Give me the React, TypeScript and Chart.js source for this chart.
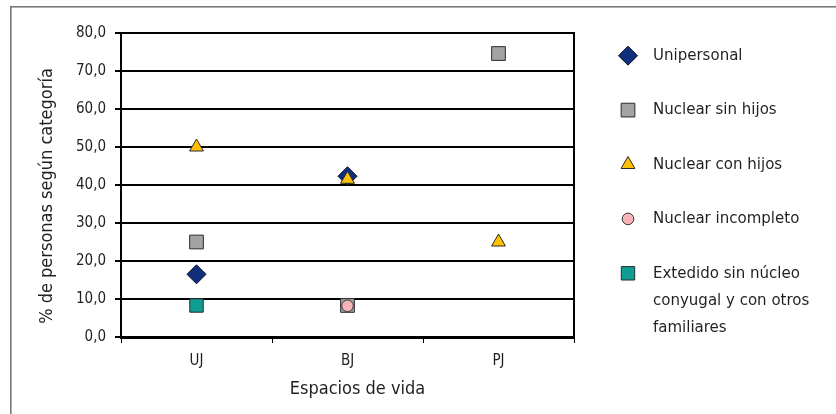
import React, { useEffect, useRef } from 'react';
import { Chart, registerables } from 'chart.js';
import { drawPoint } from 'chart.js/helpers';

Chart.register(...registerables);

const categories = ['UJ', 'BJ', 'PJ'];

const unipersonal = [16.5, 42.3, null];
const nuclearSinHijos = [25.0, 8.3, 74.6];
const nuclearConHijos = [50.0, 41.5, 25.0];
const nuclearIncompleto = [null, 8.2, null];
const extendido = [8.3, null, null];

const seriesLabels = [
  'Unipersonal',
  'Nuclear sin hijos',
  'Nuclear con hijos',
  'Nuclear incompleto',
  'Extedido sin núcleo conyugal y con otros familiares',
];
const legendLines = [
  ['Unipersonal'],
  ['Nuclear sin hijos'],
  ['Nuclear con hijos'],
  ['Nuclear incompleto'],
  ['Extedido sin núcleo', 'conyugal y con otros', 'familiares'],
];

const yTicks = [0, 10, 20, 30, 40, 50, 60, 70, 80];
const xTitle = 'Espacios de vida';
const yTitle = '% de personas según categoría';

const FONT = "'Liberation Sans Narrow', 'Arial Narrow', 'DejaVu Sans Condensed', sans-serif";
const TEXT = '#231f20';

const styles = [
  { pointStyle: 'rectRot', radius: 9.5, bg: '#0f2f7c', border: '#0a0a20' },
  { pointStyle: 'rect', radius: 9.7, bg: '#a3a3a3', border: '#2a2a2a' },
  { pointStyle: 'triangle', radius: 8, bg: '#ffc000', border: '#2a2a2a' },
  { pointStyle: 'circle', radius: 5.8, bg: '#f6b3b8', border: '#3a3a3a' },
  { pointStyle: 'rect', radius: 9.5, bg: '#0f9c92', border: '#2a2a2a' },
];

const frameAndLegend = {
  id: 'frameAndLegend',
  beforeDraw(chart: any) {
    const ctx = chart.ctx;
    ctx.save();
    ctx.fillStyle = '#ffffff';
    ctx.fillRect(0, 0, chart.width, chart.height);
    ctx.strokeStyle = '#7a7a7a';
    ctx.lineWidth = 1.6;
    ctx.strokeRect(10.8, 6.8, chart.width + 20, chart.height + 20);
    ctx.restore();
  },
  beforeDatasetsDraw(chart: any) {
    const { ctx, chartArea } = chart;
    ctx.save();
    ctx.strokeStyle = '#000';
    ctx.lineWidth = 2;
    ctx.strokeRect(chartArea.left, chartArea.top, chartArea.right - chartArea.left, chartArea.bottom - chartArea.top);
    ctx.restore();
  },
  afterDraw(chart: any) {
    const { ctx, chartArea } = chart;
    const iconX = chartArea.right + 54;
    const textX = chartArea.right + 79;
    ctx.save();
    // axis titles
    ctx.fillStyle = TEXT;
    ctx.font = `18px ${FONT}`;
    ctx.textAlign = 'center';
    ctx.textBaseline = 'middle';
    const cx = (chartArea.left + chartArea.right) / 2 + 10;
    ctx.fillText(xTitle, cx, chartArea.bottom + 52);
    const cy = (chartArea.top + chartArea.bottom) / 2 + 11;
    ctx.save();
    ctx.translate(chartArea.left - 74, cy);
    ctx.rotate(-Math.PI / 2);
    ctx.fillText(yTitle, 0, 0);
    ctx.restore();
    // legend
    chart.data.datasets.forEach((ds: any, i: number) => {
      const y = chartArea.top + 22.7 + i * 54.4;
      ctx.fillStyle = ds.pointBackgroundColor;
      ctx.strokeStyle = ds.pointBorderColor;
      ctx.lineWidth = 1;
      drawPoint(ctx, { pointStyle: ds.pointStyle, radius: ds.pointRadius, borderWidth: 1, rotation: 0 }, iconX, y);
      ctx.fillStyle = TEXT;
      ctx.font = `16.7px ${FONT}`;
      ctx.textBaseline = 'middle';
      ctx.textAlign = 'left';
      legendLines[i].forEach((line, j) => ctx.fillText(line, textX, y + j * 27));
    });
    ctx.restore();
  },
};

export default function App() {
  const ref = useRef<HTMLCanvasElement>(null);
  useEffect(() => {
    const seriesData = [unipersonal, nuclearSinHijos, nuclearConHijos, nuclearIncompleto, extendido];
    const chart = new Chart(ref.current!, {
      type: 'line',
      data: {
        labels: categories,
        datasets: seriesData.map((d, i) => ({
          label: seriesLabels[i],
          data: d,
          showLine: false,
          pointStyle: styles[i].pointStyle,
          pointRadius: styles[i].radius,
          pointHoverRadius: styles[i].radius,
          pointBackgroundColor: styles[i].bg,
          pointBorderColor: styles[i].border,
          pointBorderWidth: 1,
          order: 4 - i,
        })),
      } as any,
      options: {
        responsive: false,
        animation: false,
        devicePixelRatio: 1,
        layout: { padding: { left: 28, top: 33, right: 262, bottom: 0 } },
        plugins: { legend: { display: false }, tooltip: { enabled: false } },
        scales: {
          x: {
            type: 'category',
            offset: true,
            grid: { drawOnChartArea: false, offset: true, color: '#000', lineWidth: 1, tickLength: 6 },
            border: { color: '#000', width: 3 },
            ticks: { padding: 9, color: TEXT, font: { family: FONT, size: 15 } },
            title: { display: false, text: xTitle },
            afterFit: (s: any) => { s.height = 77; },
          },
          y: {
            min: 0,
            max: 80,
            afterBuildTicks: (s: any) => { s.ticks = yTicks.map((v) => ({ value: v })); },
            ticks: {
              padding: 9,
              color: TEXT,
              font: { family: FONT, size: 15 },
              callback: (v: any) => Number(v).toFixed(1).replace('.', ','),
            },
            grid: { color: '#000', lineWidth: 2, tickLength: 6 },
            border: { color: '#000', width: 2 },
            title: { display: false, text: yTitle },
            afterFit: (s: any) => { s.width = 93; },
          },
        },
      } as any,
      plugins: [frameAndLegend],
    });
    return () => chart.destroy();
  }, []);
  return (
    <div style={{ position: 'fixed', left: 0, top: 0, width: 836, height: 414, background: '#fff' }}>
      <canvas ref={ref} width={836} height={414} style={{ display: 'block', width: 836, height: 414 }} />
    </div>
  );
}
